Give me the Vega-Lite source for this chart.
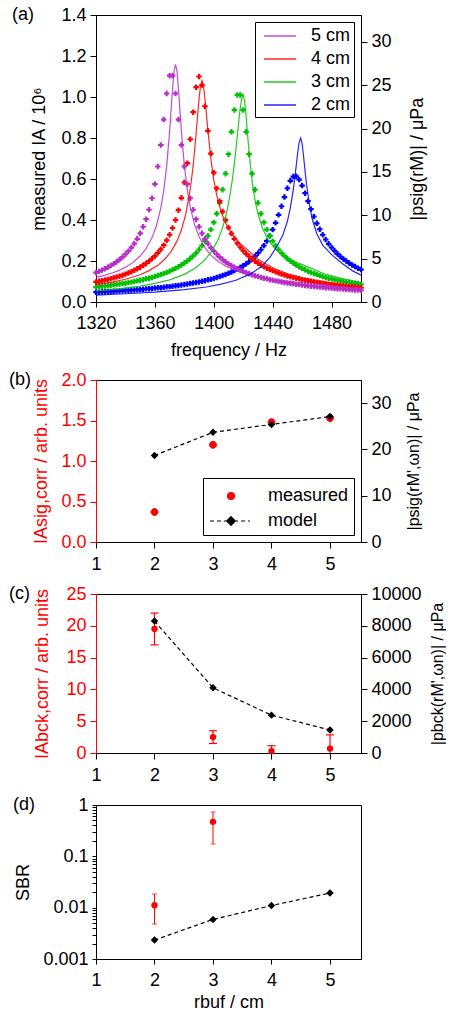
{
  "$schema": "https://vega.github.io/schema/vega-lite/v6.json",
  "background": "white",
  "padding": {"left": 8, "top": 5, "right": 0, "bottom": 0},
  "config": {
    "font": "Liberation Sans",
    "view": {"stroke": "black", "strokeWidth": 1},
    "axis": {"labelFontSize": 18, "titleFontSize": 18, "titleFontWeight": "normal", "labelColor": "black", "titleColor": "black", "domainColor": "black", "tickColor": "black", "tickSize": 6, "labelPadding": 4, "grid": false, "labelFlush": false, "labelOverlap": false},
    "axisY": {"titlePadding": 12},
    "axisRight": {"titleAngle": 270, "titleBaseline": "top"},
    "axisX": {"titlePadding": 4, "labelPadding": 7},
    "text": {"font": "Liberation Sans", "fontSize": 18, "color": "black"}
  },
  "resolve": {
    "scale": {"color": "independent", "fill": "independent", "stroke": "independent", "shape": "independent"},
    "legend": {"color": "independent", "fill": "independent", "stroke": "independent", "shape": "independent"}
  },
  "datasets": {
    "dots": [
      {"f":1320,"5 cm":0.143,"4 cm":0.098,"3 cm":0.073,"2 cm":0.048},
      {"f":1322,"5 cm":0.149,"4 cm":0.101,"3 cm":0.075,"2 cm":0.048},
      {"f":1324,"5 cm":0.155,"4 cm":0.104,"3 cm":0.077,"2 cm":0.049},
      {"f":1326,"5 cm":0.162,"4 cm":0.107,"3 cm":0.078,"2 cm":0.050},
      {"f":1328,"5 cm":0.169,"4 cm":0.110,"3 cm":0.080,"2 cm":0.051},
      {"f":1330,"5 cm":0.178,"4 cm":0.114,"3 cm":0.082,"2 cm":0.051},
      {"f":1332,"5 cm":0.186,"4 cm":0.118,"3 cm":0.084,"2 cm":0.052},
      {"f":1334,"5 cm":0.196,"4 cm":0.122,"3 cm":0.086,"2 cm":0.053},
      {"f":1336,"5 cm":0.207,"4 cm":0.126,"3 cm":0.088,"2 cm":0.054},
      {"f":1338,"5 cm":0.219,"4 cm":0.131,"3 cm":0.090,"2 cm":0.055},
      {"f":1340,"5 cm":0.233,"4 cm":0.136,"3 cm":0.092,"2 cm":0.056},
      {"f":1342,"5 cm":0.248,"4 cm":0.142,"3 cm":0.095,"2 cm":0.057},
      {"f":1344,"5 cm":0.265,"4 cm":0.148,"3 cm":0.097,"2 cm":0.058},
      {"f":1346,"5 cm":0.285,"4 cm":0.155,"3 cm":0.100,"2 cm":0.059},
      {"f":1348,"5 cm":0.308,"4 cm":0.162,"3 cm":0.103,"2 cm":0.060},
      {"f":1350,"5 cm":0.335,"4 cm":0.170,"3 cm":0.106,"2 cm":0.061},
      {"f":1352,"5 cm":0.367,"4 cm":0.179,"3 cm":0.109,"2 cm":0.062},
      {"f":1354,"5 cm":0.404,"4 cm":0.188,"3 cm":0.113,"2 cm":0.064},
      {"f":1356,"5 cm":0.450,"4 cm":0.199,"3 cm":0.116,"2 cm":0.065},
      {"f":1358,"5 cm":0.506,"4 cm":0.211,"3 cm":0.120,"2 cm":0.066},
      {"f":1360,"5 cm":0.575,"4 cm":0.224,"3 cm":0.124,"2 cm":0.068},
      {"f":1362,"5 cm":0.661,"4 cm":0.240,"3 cm":0.129,"2 cm":0.069},
      {"f":1364,"5 cm":0.766,"4 cm":0.257,"3 cm":0.134,"2 cm":0.070},
      {"f":1366,"5 cm":0.890,"4 cm":0.277,"3 cm":0.139,"2 cm":0.072},
      {"f":1368,"5 cm":1.017,"4 cm":0.301,"3 cm":0.144,"2 cm":0.074},
      {"f":1370,"5 cm":1.104,"4 cm":0.328,"3 cm":0.150,"2 cm":0.075},
      {"f":1372,"5 cm":1.104,"4 cm":0.361,"3 cm":0.157,"2 cm":0.077},
      {"f":1374,"5 cm":1.017,"4 cm":0.400,"3 cm":0.164,"2 cm":0.079},
      {"f":1376,"5 cm":0.890,"4 cm":0.448,"3 cm":0.172,"2 cm":0.081},
      {"f":1378,"5 cm":0.766,"4 cm":0.508,"3 cm":0.180,"2 cm":0.083},
      {"f":1380,"5 cm":0.661,"4 cm":0.583,"3 cm":0.190,"2 cm":0.085},
      {"f":1382,"5 cm":0.575,"4 cm":0.677,"3 cm":0.200,"2 cm":0.088},
      {"f":1384,"5 cm":0.506,"4 cm":0.794,"3 cm":0.212,"2 cm":0.090},
      {"f":1386,"5 cm":0.450,"4 cm":0.926,"3 cm":0.225,"2 cm":0.093},
      {"f":1388,"5 cm":0.404,"4 cm":1.048,"3 cm":0.239,"2 cm":0.095},
      {"f":1390,"5 cm":0.367,"4 cm":1.100,"3 cm":0.256,"2 cm":0.098},
      {"f":1392,"5 cm":0.335,"4 cm":1.058,"3 cm":0.275,"2 cm":0.101},
      {"f":1394,"5 cm":0.308,"4 cm":0.955,"3 cm":0.297,"2 cm":0.104},
      {"f":1396,"5 cm":0.285,"4 cm":0.835,"3 cm":0.323,"2 cm":0.108},
      {"f":1398,"5 cm":0.265,"4 cm":0.724,"3 cm":0.353,"2 cm":0.111},
      {"f":1400,"5 cm":0.248,"4 cm":0.631,"3 cm":0.388,"2 cm":0.115},
      {"f":1402,"5 cm":0.233,"4 cm":0.554,"3 cm":0.431,"2 cm":0.120},
      {"f":1404,"5 cm":0.219,"4 cm":0.492,"3 cm":0.484,"2 cm":0.124},
      {"f":1406,"5 cm":0.207,"4 cm":0.441,"3 cm":0.548,"2 cm":0.129},
      {"f":1408,"5 cm":0.196,"4 cm":0.399,"3 cm":0.626,"2 cm":0.134},
      {"f":1410,"5 cm":0.186,"4 cm":0.363,"3 cm":0.721,"2 cm":0.140},
      {"f":1412,"5 cm":0.178,"4 cm":0.334,"3 cm":0.830,"2 cm":0.146},
      {"f":1414,"5 cm":0.169,"4 cm":0.308,"3 cm":0.937,"2 cm":0.153},
      {"f":1416,"5 cm":0.162,"4 cm":0.286,"3 cm":1.010,"2 cm":0.160},
      {"f":1418,"5 cm":0.155,"4 cm":0.267,"3 cm":1.010,"2 cm":0.168},
      {"f":1420,"5 cm":0.149,"4 cm":0.250,"3 cm":0.937,"2 cm":0.177},
      {"f":1422,"5 cm":0.143,"4 cm":0.235,"3 cm":0.830,"2 cm":0.186},
      {"f":1424,"5 cm":0.138,"4 cm":0.222,"3 cm":0.721,"2 cm":0.197},
      {"f":1426,"5 cm":0.133,"4 cm":0.210,"3 cm":0.626,"2 cm":0.209},
      {"f":1428,"5 cm":0.128,"4 cm":0.199,"3 cm":0.548,"2 cm":0.223},
      {"f":1430,"5 cm":0.124,"4 cm":0.190,"3 cm":0.484,"2 cm":0.238},
      {"f":1432,"5 cm":0.120,"4 cm":0.181,"3 cm":0.431,"2 cm":0.255},
      {"f":1434,"5 cm":0.116,"4 cm":0.173,"3 cm":0.388,"2 cm":0.275},
      {"f":1436,"5 cm":0.113,"4 cm":0.165,"3 cm":0.353,"2 cm":0.297},
      {"f":1438,"5 cm":0.109,"4 cm":0.159,"3 cm":0.323,"2 cm":0.323},
      {"f":1440,"5 cm":0.106,"4 cm":0.153,"3 cm":0.297,"2 cm":0.353},
      {"f":1442,"5 cm":0.103,"4 cm":0.147,"3 cm":0.275,"2 cm":0.386},
      {"f":1444,"5 cm":0.101,"4 cm":0.141,"3 cm":0.256,"2 cm":0.425},
      {"f":1446,"5 cm":0.098,"4 cm":0.136,"3 cm":0.239,"2 cm":0.467},
      {"f":1448,"5 cm":0.095,"4 cm":0.132,"3 cm":0.225,"2 cm":0.512},
      {"f":1450,"5 cm":0.093,"4 cm":0.127,"3 cm":0.212,"2 cm":0.555},
      {"f":1452,"5 cm":0.091,"4 cm":0.123,"3 cm":0.200,"2 cm":0.591},
      {"f":1454,"5 cm":0.089,"4 cm":0.120,"3 cm":0.190,"2 cm":0.612},
      {"f":1456,"5 cm":0.086,"4 cm":0.116,"3 cm":0.180,"2 cm":0.613},
      {"f":1458,"5 cm":0.085,"4 cm":0.113,"3 cm":0.172,"2 cm":0.597},
      {"f":1460,"5 cm":0.083,"4 cm":0.109,"3 cm":0.164,"2 cm":0.568},
      {"f":1462,"5 cm":0.081,"4 cm":0.106,"3 cm":0.157,"2 cm":0.531},
      {"f":1464,"5 cm":0.079,"4 cm":0.104,"3 cm":0.150,"2 cm":0.492},
      {"f":1466,"5 cm":0.077,"4 cm":0.101,"3 cm":0.144,"2 cm":0.453},
      {"f":1468,"5 cm":0.076,"4 cm":0.098,"3 cm":0.139,"2 cm":0.417},
      {"f":1470,"5 cm":0.074,"4 cm":0.096,"3 cm":0.134,"2 cm":0.384},
      {"f":1472,"5 cm":0.073,"4 cm":0.094,"3 cm":0.129,"2 cm":0.355},
      {"f":1474,"5 cm":0.072,"4 cm":0.091,"3 cm":0.124,"2 cm":0.328},
      {"f":1476,"5 cm":0.070,"4 cm":0.089,"3 cm":0.120,"2 cm":0.305},
      {"f":1478,"5 cm":0.069,"4 cm":0.087,"3 cm":0.116,"2 cm":0.284},
      {"f":1480,"5 cm":0.068,"4 cm":0.085,"3 cm":0.113,"2 cm":0.266},
      {"f":1482,"5 cm":0.066,"4 cm":0.083,"3 cm":0.109,"2 cm":0.250},
      {"f":1484,"5 cm":0.065,"4 cm":0.082,"3 cm":0.106,"2 cm":0.235},
      {"f":1486,"5 cm":0.064,"4 cm":0.080,"3 cm":0.103,"2 cm":0.222},
      {"f":1488,"5 cm":0.063,"4 cm":0.078,"3 cm":0.100,"2 cm":0.210},
      {"f":1490,"5 cm":0.062,"4 cm":0.077,"3 cm":0.097,"2 cm":0.200},
      {"f":1492,"5 cm":0.061,"4 cm":0.075,"3 cm":0.095,"2 cm":0.190},
      {"f":1494,"5 cm":0.060,"4 cm":0.074,"3 cm":0.092,"2 cm":0.181},
      {"f":1496,"5 cm":0.059,"4 cm":0.073,"3 cm":0.090,"2 cm":0.173},
      {"f":1498,"5 cm":0.058,"4 cm":0.071,"3 cm":0.088,"2 cm":0.165},
      {"f":1500,"5 cm":0.057,"4 cm":0.070,"3 cm":0.086,"2 cm":0.158}
    ],
    "model": [
      {"s":"5 cm","f":1320,"p":2.84},{"s":"5 cm","f":1325,"p":3.05},{"s":"5 cm","f":1330,"p":3.29},{"s":"5 cm","f":1335,"p":3.59},
      {"s":"5 cm","f":1340,"p":4.00},{"s":"5 cm","f":1345,"p":4.54},{"s":"5 cm","f":1350,"p":5.30},{"s":"5 cm","f":1354,"p":6.15},
      {"s":"5 cm","f":1358,"p":7.40},{"s":"5 cm","f":1361,"p":8.77},{"s":"5 cm","f":1364,"p":10.83},{"s":"5 cm","f":1366,"p":12.84},
      {"s":"5 cm","f":1368,"p":15.67},{"s":"5 cm","f":1370,"p":19.67},{"s":"5 cm","f":1371,"p":22.10},{"s":"5 cm","f":1372,"p":24.59},
      {"s":"5 cm","f":1373,"p":26.62},{"s":"5 cm","f":1374,"p":27.42},{"s":"5 cm","f":1375,"p":26.62},{"s":"5 cm","f":1376,"p":24.61},
      {"s":"5 cm","f":1377,"p":22.13},{"s":"5 cm","f":1378,"p":19.72},{"s":"5 cm","f":1380,"p":15.74},{"s":"5 cm","f":1382,"p":12.93},
      {"s":"5 cm","f":1384,"p":10.95},{"s":"5 cm","f":1387,"p":8.89},{"s":"5 cm","f":1390,"p":7.52},{"s":"5 cm","f":1394,"p":6.26},
      {"s":"5 cm","f":1398,"p":5.41},{"s":"5 cm","f":1403,"p":4.68},{"s":"5 cm","f":1410,"p":3.97},{"s":"5 cm","f":1420,"p":3.31},
      {"s":"5 cm","f":1430,"p":2.91},{"s":"5 cm","f":1440,"p":2.60},{"s":"5 cm","f":1450,"p":2.39},{"s":"5 cm","f":1460,"p":2.22},
      {"s":"5 cm","f":1470,"p":2.06},{"s":"5 cm","f":1480,"p":1.87},{"s":"5 cm","f":1490,"p":1.70},{"s":"5 cm","f":1500,"p":1.56},
      {"s":"4 cm","f":1320,"p":2.01},{"s":"4 cm","f":1330,"p":2.27},{"s":"4 cm","f":1340,"p":2.62},{"s":"4 cm","f":1350,"p":3.14},
      {"s":"4 cm","f":1356,"p":3.62},{"s":"4 cm","f":1362,"p":4.23},{"s":"4 cm","f":1367,"p":4.99},{"s":"4 cm","f":1371,"p":5.82},
      {"s":"4 cm","f":1375,"p":7.02},{"s":"4 cm","f":1378,"p":8.30},{"s":"4 cm","f":1381,"p":10.14},{"s":"4 cm","f":1384,"p":12.98},
      {"s":"4 cm","f":1386,"p":15.72},{"s":"4 cm","f":1388,"p":19.38},{"s":"4 cm","f":1389,"p":21.44},{"s":"4 cm","f":1390,"p":23.45},
      {"s":"4 cm","f":1391,"p":24.96},{"s":"4 cm","f":1392,"p":25.53},{"s":"4 cm","f":1393,"p":24.94},{"s":"4 cm","f":1394,"p":23.50},
      {"s":"4 cm","f":1395,"p":21.65},{"s":"4 cm","f":1396,"p":19.79},{"s":"4 cm","f":1398,"p":16.55},{"s":"4 cm","f":1400,"p":14.09},
      {"s":"4 cm","f":1402,"p":12.29},{"s":"4 cm","f":1405,"p":10.40},{"s":"4 cm","f":1408,"p":9.10},{"s":"4 cm","f":1412,"p":7.90},
      {"s":"4 cm","f":1417,"p":6.88},{"s":"4 cm","f":1423,"p":6.00},{"s":"4 cm","f":1430,"p":4.94},{"s":"4 cm","f":1440,"p":3.95},
      {"s":"4 cm","f":1450,"p":3.26},{"s":"4 cm","f":1460,"p":2.79},{"s":"4 cm","f":1470,"p":2.43},{"s":"4 cm","f":1480,"p":2.17},
      {"s":"4 cm","f":1490,"p":1.94},{"s":"4 cm","f":1500,"p":1.77},
      {"s":"3 cm","f":1320,"p":1.28},{"s":"3 cm","f":1335,"p":1.51},{"s":"3 cm","f":1350,"p":1.84},{"s":"3 cm","f":1360,"p":2.15},
      {"s":"3 cm","f":1370,"p":2.55},{"s":"3 cm","f":1380,"p":3.19},{"s":"3 cm","f":1388,"p":3.97},{"s":"3 cm","f":1394,"p":4.85},
      {"s":"3 cm","f":1399,"p":5.96},{"s":"3 cm","f":1403,"p":7.23},{"s":"3 cm","f":1406,"p":8.58},{"s":"3 cm","f":1409,"p":10.52},
      {"s":"3 cm","f":1411,"p":12.29},{"s":"3 cm","f":1413,"p":14.59},{"s":"3 cm","f":1415,"p":17.52},{"s":"3 cm","f":1416,"p":19.20},
      {"s":"3 cm","f":1417,"p":20.87},{"s":"3 cm","f":1418,"p":22.39},{"s":"3 cm","f":1419,"p":23.47},{"s":"3 cm","f":1420,"p":23.88},
      {"s":"3 cm","f":1421,"p":23.12},{"s":"3 cm","f":1422,"p":21.32},{"s":"3 cm","f":1423,"p":19.22},{"s":"3 cm","f":1424,"p":17.21},
      {"s":"3 cm","f":1426,"p":13.99},{"s":"3 cm","f":1428,"p":11.75},{"s":"3 cm","f":1430,"p":10.17},{"s":"3 cm","f":1433,"p":8.53},
      {"s":"3 cm","f":1437,"p":7.14},{"s":"3 cm","f":1442,"p":6.08},{"s":"3 cm","f":1448,"p":5.25},{"s":"3 cm","f":1455,"p":4.66},
      {"s":"3 cm","f":1465,"p":3.97},{"s":"3 cm","f":1475,"p":3.26},{"s":"3 cm","f":1487,"p":2.69},{"s":"3 cm","f":1500,"p":2.27},
      {"s":"2 cm","f":1320,"p":0.80},{"s":"2 cm","f":1340,"p":0.95},{"s":"2 cm","f":1360,"p":1.13},{"s":"2 cm","f":1380,"p":1.42},
      {"s":"2 cm","f":1395,"p":1.73},{"s":"2 cm","f":1405,"p":2.06},{"s":"2 cm","f":1415,"p":2.51},{"s":"2 cm","f":1425,"p":3.24},
      {"s":"2 cm","f":1432,"p":4.04},{"s":"2 cm","f":1438,"p":5.11},{"s":"2 cm","f":1443,"p":6.45},{"s":"2 cm","f":1447,"p":7.75},
      {"s":"2 cm","f":1450,"p":9.31},{"s":"2 cm","f":1452,"p":10.85},{"s":"2 cm","f":1454,"p":12.95},{"s":"2 cm","f":1455,"p":14.28},
      {"s":"2 cm","f":1456,"p":15.74},{"s":"2 cm","f":1457,"p":17.21},{"s":"2 cm","f":1458,"p":18.42},{"s":"2 cm","f":1459,"p":18.91},
      {"s":"2 cm","f":1460,"p":18.27},{"s":"2 cm","f":1461,"p":16.78},{"s":"2 cm","f":1462,"p":15.11},{"s":"2 cm","f":1463,"p":13.57},
      {"s":"2 cm","f":1465,"p":11.16},{"s":"2 cm","f":1467,"p":9.48},{"s":"2 cm","f":1470,"p":7.87},{"s":"2 cm","f":1474,"p":6.57},
      {"s":"2 cm","f":1480,"p":5.46},{"s":"2 cm","f":1487,"p":4.47},{"s":"2 cm","f":1494,"p":3.62},{"s":"2 cm","f":1500,"p":3.10}
    ],
    "errc": [{"r": 2, "lo": 17, "hi": 22}, {"r": 3, "lo": 1.5, "hi": 3.5}, {"r": 4, "lo": -0.6, "hi": 1.15}, {"r": 5, "lo": -1.4, "hi": 2.85}]
  },
  "spacing": 10,
  "vconcat": [
    {
      "width": 265,
      "height": 287,
      "layer": [
        {
          "layer": [
            {
              "data": {"name": "dots"},
              "transform": [{"fold": ["2 cm", "3 cm", "4 cm", "5 cm"], "as": ["s", "v"]}],
              "mark": {"type": "point", "shape": "cross", "filled": true, "size": 30, "opacity": 1},
              "encoding": {
                "x": {"field": "f", "type": "quantitative", "scale": {"domain": [1320, 1500], "nice": false},
                      "axis": {"title": "frequency / Hz", "format": "d", "titlePadding": 9, "values": [1320,1330,1340,1350,1360,1370,1380,1390,1400,1410,1420,1430,1440,1450,1460,1470,1480,1490,1500],
                               "labelExpr": "(datum.value - 1320) % 40 === 0 ? datum.label : ''", "tickSize": 5}},
                "y": {"field": "v", "type": "quantitative", "scale": {"domain": [0, 1.4], "nice": false},
                      "axis": {"title": "measured IA / 10⁶", "values": [0, 0.2, 0.4, 0.6, 0.8, 1, 1.2, 1.4], "format": ".1f"}},
                "color": {"field": "s", "type": "nominal", "scale": {"domain": ["5 cm", "4 cm", "3 cm", "2 cm"], "range": ["#b82ec8", "#ff0000", "#00c000", "#0000ff"]}, "legend": null},
                "order": {"field": "s", "type": "nominal"}
              }
            },
            {
              "data": {"values": [{"t": "(a)"}]},
              "mark": {"type": "text", "dx": -84, "align": "left", "baseline": "middle"},
              "encoding": {"x": {"datum": 1320}, "y": {"datum": 1.4}, "text": {"field": "t"}}
            }
          ]
        },
        {
          "data": {"name": "model"},
          "mark": {"type": "line", "strokeWidth": 1.2, "opacity": 0.85},
          "encoding": {
            "x": {"field": "f", "type": "quantitative"},
            "y": {"field": "p", "type": "quantitative", "scale": {"domain": [0, 33.1], "nice": false},
                  "axis": {"orient": "right", "title": "|psig(rM)| / μPa", "values": [0, 5, 10, 15, 20, 25, 30], "titlePadding": 17}},
            "color": {"field": "s", "type": "nominal",
                      "legend": {"title": null, "orient": "top-right", "offset": 7, "symbolType": "M-1.6,0H1.6", "symbolSize": 400, "symbolOffset": 11, "symbolStrokeWidth": 1.5,
                                 "labelFontSize": 18, "labelFont": "Liberation Sans", "strokeColor": "black", "fillColor": "white", "padding": 3, "rowPadding": 3, "labelOffset": 20,
                                 "values": ["5 cm", "4 cm", "3 cm", "2 cm"]}}
          }
        }
      ],
      "resolve": {"scale": {"y": "independent"}, "legend": {"color": "independent"}}
    },
    {
      "width": 265,
      "height": 162,
      "layer": [
        {
          "layer": [
            {
              "data": {"values": [{"r": 2, "v": 0.37}, {"r": 3, "v": 1.2}, {"r": 4, "v": 1.48}, {"r": 5, "v": 1.53}]},
              "mark": {"type": "point", "filled": true, "size": 576, "opacity": 1, "strokeWidth": 1},
              "encoding": {
                "x": {"field": "r", "type": "quantitative", "scale": {"domain": [1, 5.53], "nice": false}, "axis": {"title": null, "values": [1, 2, 3, 4, 5], "format": "d"}},
                "y": {"field": "v", "type": "quantitative", "scale": {"domain": [0, 2], "nice": false},
                      "axis": {"title": "IAsig,corr / arb. units", "values": [0, 0.5, 1, 1.5, 2], "format": ".1f", "labelColor": "#ff0000", "titleColor": "#ff0000", "domainColor": "#ff0000", "tickColor": "#ff0000", "titlePadding": 10}},
                "fill": {"datum": "measured", "type": "nominal", "scale": {"domain": ["measured", "model"], "range": ["#ff0000", "#000000"]},
                         "legend": {"title": null, "orient": "bottom-right", "offset": 7, "strokeColor": "black", "fillColor": "white", "padding": 5, "symbolSize": 576, "symbolOffset": 10, "symbolStrokeWidth": 1.2,
                                    "labelFontSize": 18, "labelFont": "Liberation Sans", "rowPadding": 3, "labelOffset": 24}},
                "stroke": {"datum": "measured", "type": "nominal", "scale": {"domain": ["measured", "model"], "range": ["#ff0000", "#000000"]},
                           "legend": {"title": null, "orient": "bottom-right", "offset": 7, "strokeColor": "black", "fillColor": "white", "padding": 5, "symbolSize": 576, "symbolOffset": 10, "symbolStrokeWidth": 1.2,
                                      "labelFontSize": 18, "labelFont": "Liberation Sans", "rowPadding": 3, "labelOffset": 24}},
                "shape": {"datum": "measured", "type": "nominal",
                          "scale": {"domain": ["measured", "model"], "range": ["M0.29,0A0.29,0.29 0 1,1 -0.29,0A0.29,0.29 0 1,1 0.29,0Z", "M-1.75,0H-1.42M-1.17,0H-0.84M-0.59,0H-0.33M0.33,0H0.59M0.84,0H1.17M1.42,0H1.58M0,-0.36L0.36,0L0,0.36L-0.36,0Z"]},
                          "legend": {"title": null, "orient": "bottom-right", "offset": 7, "strokeColor": "black", "fillColor": "white", "padding": 5, "symbolSize": 576, "symbolOffset": 10, "symbolStrokeWidth": 1.2,
                                     "labelFontSize": 18, "labelFont": "Liberation Sans", "rowPadding": 3, "labelOffset": 24}}
              }
            },
            {
              "data": {"values": [{"t": "(b)"}]},
              "mark": {"type": "text", "dx": -87, "align": "left", "baseline": "middle"},
              "encoding": {
                "x": {"datum": 1, "type": "quantitative", "axis": {"title": null, "values": [1, 2, 3, 4, 5], "format": "d"}},
                "y": {"datum": 2, "type": "quantitative",
                      "axis": {"title": "IAsig,corr / arb. units", "values": [0, 0.5, 1, 1.5, 2], "format": ".1f", "labelColor": "#ff0000", "titleColor": "#ff0000", "domainColor": "#ff0000", "tickColor": "#ff0000", "titlePadding": 10}},
                "text": {"field": "t"}}
            }
          ]
        },
        {
          "data": {"values": [{"r": 2, "p": 18.7}, {"r": 3, "p": 23.7}, {"r": 4, "p": 25.4}, {"r": 5, "p": 27.1}]},
          "encoding": {
            "x": {"field": "r", "type": "quantitative"},
            "y": {"field": "p", "type": "quantitative", "scale": {"domain": [0, 35], "nice": false},
                  "axis": {"orient": "right", "title": "|psig(rM',ωn)| / μPa", "titleFontSize": 16, "values": [0, 10, 20, 30], "titlePadding": 14}}
          },
          "layer": [
            {"mark": {"type": "line", "strokeDash": [4, 3], "strokeWidth": 1.2, "color": "black"}},
            {"mark": {"type": "point", "shape": "diamond", "filled": true, "size": 55, "opacity": 1, "color": "black"}}
          ]
        }
      ],
      "resolve": {"scale": {"y": "independent"}}
    },
    {
      "width": 265,
      "height": 159,
      "layer": [
        {
          "layer": [
            {"data": {"name": "errc"},
             "mark": {"type": "rule", "color": "#ff0000", "strokeWidth": 1.2, "clip": true},
             "encoding": {
               "x": {"field": "r", "type": "quantitative", "scale": {"domain": [1, 5.53], "nice": false}, "axis": {"title": null, "values": [1, 2, 3, 4, 5], "format": "d"}},
               "y": {"field": "lo", "type": "quantitative", "scale": {"domain": [0, 25], "nice": false},
                     "axis": {"title": "IAbck,corr / arb. units", "values": [0, 5, 10, 15, 20, 25], "labelColor": "#ff0000", "titleColor": "#ff0000", "domainColor": "#ff0000", "tickColor": "#ff0000", "titlePadding": 14}},
               "y2": {"field": "hi"}}},
            {"data": {"name": "errc"},
             "mark": {"type": "tick", "orient": "horizontal", "size": 8, "thickness": 1.2, "color": "#ff0000", "opacity": 1, "clip": true},
             "encoding": {
               "x": {"field": "r", "type": "quantitative", "axis": {"title": null, "values": [1, 2, 3, 4, 5], "format": "d"}},
               "y": {"field": "lo", "type": "quantitative",
                     "axis": {"title": "IAbck,corr / arb. units", "values": [0, 5, 10, 15, 20, 25], "labelColor": "#ff0000", "titleColor": "#ff0000", "domainColor": "#ff0000", "tickColor": "#ff0000", "titlePadding": 14}}}},
            {"data": {"name": "errc"},
             "mark": {"type": "tick", "orient": "horizontal", "size": 8, "thickness": 1.2, "color": "#ff0000", "opacity": 1, "clip": true},
             "encoding": {
               "x": {"field": "r", "type": "quantitative", "axis": {"title": null, "values": [1, 2, 3, 4, 5], "format": "d"}},
               "y": {"field": "hi", "type": "quantitative",
                     "axis": {"title": "IAbck,corr / arb. units", "values": [0, 5, 10, 15, 20, 25], "labelColor": "#ff0000", "titleColor": "#ff0000", "domainColor": "#ff0000", "tickColor": "#ff0000", "titlePadding": 14}}}},
            {"data": {"values": [{"r": 2, "v": 19.5}, {"r": 3, "v": 2.5}, {"r": 4, "v": 0.3}, {"r": 5, "v": 0.7}]},
             "mark": {"type": "point", "shape": "circle", "filled": true, "size": 40, "opacity": 1, "color": "#ff0000"},
             "encoding": {
               "x": {"field": "r", "type": "quantitative", "axis": {"title": null, "values": [1, 2, 3, 4, 5], "format": "d"}},
               "y": {"field": "v", "type": "quantitative",
                     "axis": {"title": "IAbck,corr / arb. units", "values": [0, 5, 10, 15, 20, 25], "labelColor": "#ff0000", "titleColor": "#ff0000", "domainColor": "#ff0000", "tickColor": "#ff0000", "titlePadding": 14}}}},
            {"data": {"values": [{"t": "(c)"}]},
             "mark": {"type": "text", "dx": -87, "align": "left", "baseline": "middle"},
             "encoding": {
               "x": {"datum": 1, "type": "quantitative", "axis": {"title": null, "values": [1, 2, 3, 4, 5], "format": "d"}},
               "y": {"datum": 25, "type": "quantitative",
                     "axis": {"title": "IAbck,corr / arb. units", "values": [0, 5, 10, 15, 20, 25], "labelColor": "#ff0000", "titleColor": "#ff0000", "domainColor": "#ff0000", "tickColor": "#ff0000", "titlePadding": 14}},
               "text": {"field": "t"}}}
          ]
        },
        {
          "data": {"values": [{"r": 2, "p": 8300}, {"r": 3, "p": 4100}, {"r": 4, "p": 2380}, {"r": 5, "p": 1450}]},
          "encoding": {
            "x": {"field": "r", "type": "quantitative"},
            "y": {"field": "p", "type": "quantitative", "scale": {"domain": [0, 10000], "nice": false},
                  "axis": {"orient": "right", "title": "|pbck(rM',ωn)| / μPa", "titleFontSize": 16, "values": [0, 2000, 4000, 6000, 8000, 10000], "format": "d", "titlePadding": 8}}
          },
          "layer": [
            {"mark": {"type": "line", "strokeDash": [4, 3], "strokeWidth": 1.2, "color": "black"}},
            {"mark": {"type": "point", "shape": "diamond", "filled": true, "size": 55, "opacity": 1, "color": "black"}}
          ]
        }
      ],
      "resolve": {"scale": {"y": "independent"}}
    },
    {
      "width": 265,
      "height": 154,
      "layer": [
        {"data": {"values": [{"r": 2, "lo": 0.0048, "hi": 0.0185}, {"r": 3, "lo": 0.174, "hi": 0.73}]},
         "mark": {"type": "errorbar", "ticks": true, "color": "#ff0000"},
         "encoding": {
           "x": {"field": "r", "type": "quantitative", "scale": {"domain": [1, 5.53], "nice": false},
                 "axis": {"title": "rbuf / cm", "format": "d", "values": [1, 1.25, 1.5, 1.75, 2, 2.25, 2.5, 2.75, 3, 3.25, 3.5, 3.75, 4, 4.25, 4.5, 4.75, 5, 5.25, 5.5],
                          "labelExpr": "datum.value % 1 === 0 ? datum.label : ''", "tickSize": 5}},
           "y": {"field": "lo", "type": "quantitative", "scale": {"type": "log", "domain": [0.001, 1], "nice": false},
                 "axis": {"title": "SBR", "tickSize": 4, "titlePadding": 10,
                          "values": [0.001, 0.002, 0.003, 0.004, 0.005, 0.006, 0.007, 0.008, 0.009, 0.01, 0.02, 0.03, 0.04, 0.05, 0.06, 0.07, 0.08, 0.09, 0.1, 0.2, 0.3, 0.4, 0.5, 0.6, 0.7, 0.8, 0.9, 1],
                          "labelExpr": "datum.value === 0.001 ? '0.001' : datum.value === 0.01 ? '0.01' : datum.value === 0.1 ? '0.1' : datum.value === 1 ? '1' : ''"}},
           "y2": {"field": "hi"}}},
        {"data": {"values": [{"r": 2, "v": 0.0112}, {"r": 3, "v": 0.47}]},
         "mark": {"type": "point", "shape": "circle", "filled": true, "size": 40, "opacity": 1, "color": "#ff0000"},
         "encoding": {"x": {"field": "r", "type": "quantitative"}, "y": {"field": "v", "type": "quantitative"}}},
        {"data": {"values": [{"r": 2, "v": 0.00234}, {"r": 3, "v": 0.0059}, {"r": 4, "v": 0.011}, {"r": 5, "v": 0.0193}]},
         "encoding": {"x": {"field": "r", "type": "quantitative"}, "y": {"field": "v", "type": "quantitative"}},
         "layer": [
           {"mark": {"type": "line", "strokeDash": [4, 3], "strokeWidth": 1.2, "color": "black"}},
           {"mark": {"type": "point", "shape": "diamond", "filled": true, "size": 55, "opacity": 1, "color": "black"}}
         ]},
        {"data": {"values": [{"t": "(d)"}]},
         "mark": {"type": "text", "dx": -83, "align": "left", "baseline": "middle"},
         "encoding": {"x": {"datum": 1}, "y": {"datum": 1}, "text": {"field": "t"}}}
      ]
    }
  ]
}
